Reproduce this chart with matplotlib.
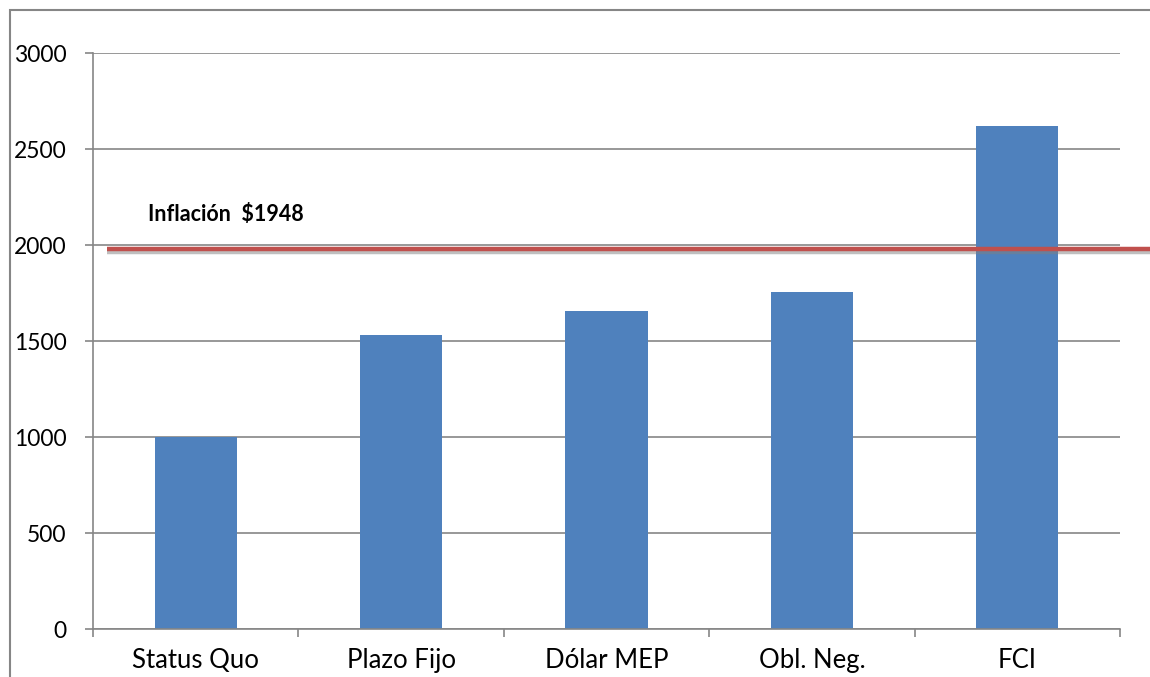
import matplotlib
matplotlib.use("Agg")
import matplotlib.pyplot as plt
import matplotlib.patheffects as pe
from matplotlib.patches import Rectangle

categories = ["Status Quo", "Plazo Fijo", "Dólar MEP", "Obl. Neg.", "FCI"]
values = [1000, 1530, 1655, 1755, 2620]
inflation_value = 1980
inflation_label = "Inflación  $1948"
yticks = [0, 500, 1000, 1500, 2000, 2500, 3000]

plt.rcParams['font.family'] = ['Lato', 'DejaVu Sans']

fig = plt.figure(figsize=(11.5, 6.77), dpi=100)
ax = fig.add_axes([93/1150, 48/677, (1120-93)/1150, (629-53)/677])

grey = "#868686"
x = list(range(len(categories)))
ax.bar(x, values, width=0.4, color="#4F81BD", zorder=2)

ax.set_xlim(-0.5, len(categories) - 0.5)
ax.set_ylim(0, 3000)
ax.set_yticks(yticks)
ax.yaxis.grid(True, color=grey, linewidth=1.2, zorder=0)
ax.set_axisbelow(True)

# category boundary ticks on x axis, labels at centres
ax.set_xticks([i - 0.5 for i in range(len(categories) + 1)])
ax.set_xticklabels([])
ax.set_xticks(x, minor=True)
ax.set_xticklabels(categories, minor=True, fontsize=18.5)
ax.tick_params(axis="x", which="major", direction="out", length=6, color=grey, width=1.2)
ax.tick_params(axis="x", which="minor", length=0, pad=14)
ax.tick_params(axis="y", direction="out", length=6, color=grey, width=1.2, labelsize=16.5, pad=13)

for s in ["top", "right"]:
    ax.spines[s].set_visible(False)
for s in ["left", "bottom"]:
    ax.spines[s].set_color(grey)
    ax.spines[s].set_linewidth(1.2)

# inflation line with a soft shadow, running past the plot edge
ax.plot([-0.432, 4.8], [inflation_value, inflation_value], color="#C0504D", linewidth=3.2,
        clip_on=False, zorder=4, solid_capstyle="butt",
        path_effects=[pe.SimpleLineShadow(offset=(0, -2.5), shadow_color="grey", alpha=0.5),
                      pe.Normal()])
ax.text(-0.232, 2160, inflation_label, fontsize=15.5, fontweight="bold",
        va="center", ha="left")

# outer frame of the chart area
fig.patches.append(Rectangle((10/1150, -0.1), 1.2, 1 - 10/677 + 0.1, transform=fig.transFigure,
                             fill=False, edgecolor=grey, linewidth=1.5))

fig.savefig("out.png", dpi=100)
